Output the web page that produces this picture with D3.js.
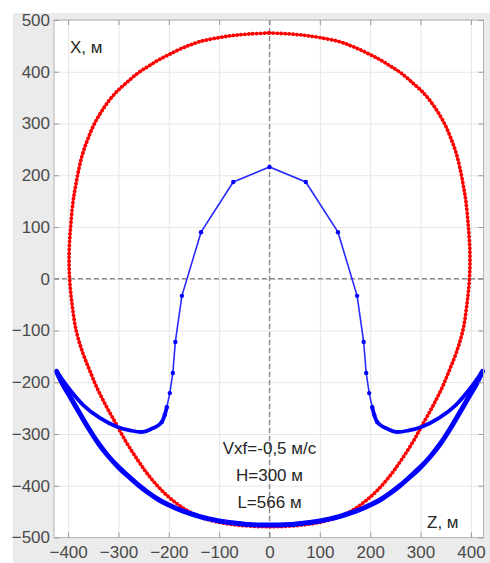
<!DOCTYPE html>
<html>
<head>
<meta charset="utf-8">
<script src="https://cdn.jsdelivr.net/npm/d3@7"></script>
<style>
  body { margin: 0; background: #fff; }
  svg { display: block; font-family: "Liberation Sans", Arial, sans-serif; }
</style>
</head>
<body>
<svg id="chart" width="490" height="563"></svg>
<script>
// tick values
const zTicks = [-400, -300, -200, -100, 0, 100, 200, 300, 400];
const xTicks = [-500, -400, -300, -200, -100, 0, 100, 200, 300, 400, 500];

// red curve, clockwise from top
const redZ = [0, 40, 73, 100, 139, 170, 198, 220, 240, 262, 285, 305, 322, 337, 350, 360, 370, 378, 385, 390, 395, 398, 397,
  392, 384, 372, 358, 343, 325, 305, 285, 262, 240, 215, 190, 160, 120, 80, 40, 0,
  -40, -80, -120, -160, -190, -215, -240, -262, -285, -305, -325, -343, -358, -372, -384, -392,
  -397, -398, -395, -390, -385, -378, -370, -360, -350, -337, -322, -305, -285, -262, -240, -220, -198, -170, -139, -100, -73, -40, 0];
const redX = [475, 473, 470, 466, 458, 447, 434, 423, 411, 397, 378, 360, 340, 318, 295, 272, 245, 215, 180, 150, 100, 50, 0,
  -50, -100, -140, -175, -210, -245, -280, -315, -350, -380, -408, -430, -450, -466, -474, -478, -479,
  -478, -474, -466, -450, -430, -408, -380, -350, -315, -280, -245, -210, -175, -140, -100, -50,
  0, 50, 100, 150, 180, 215, 245, 272, 295, 318, 340, 360, 378, 397, 411, 423, 434, 447, 458, 466, 470, 473, 475];

// blue arch (thin, with markers)
const archZ = [-214, -208, -204, -198, -192, -187, -174, -136, -72, 0, 72, 136, 174, 187, 192, 198, 204, 208, 214];
const archX = [-277, -263, -248, -221, -182, -122, -33, 90, 187, 216, 187, 90, -33, -122, -182, -221, -248, -263, -277];

// blue inner lobes (thick)
const lobeLZ = [-204, -208, -214, -222, -232, -251, -277, -303, -337, -370, -396, -423];
const lobeLX = [-248, -263, -277, -284, -289, -296, -293, -286, -269, -244, -215, -179];
const lobeRZ = [204, 208, 214, 222, 232, 251, 277, 303, 337, 370, 396, 423];
const lobeRX = [-248, -263, -277, -284, -289, -296, -293, -286, -269, -244, -215, -179];

// blue outer bottom (thick)
const bottomZ = [-423, -410, -396, -380, -360, -340, -320, -300, -280, -260, -240, -220, -200, -180, -160, -140, -120, -100, -80, -60, -40, -20, 0,
  20, 40, 60, 80, 100, 120, 140, 160, 180, 200, 220, 240, 260, 280, 300, 320, 340, 360, 380, 396, 410, 423];
const bottomX = [-179, -205, -228, -255, -288, -318, -343, -364, -382, -399, -414, -427, -437, -446, -453, -459, -464, -468, -471, -473, -475, -476, -476,
  -476, -475, -473, -471, -468, -464, -459, -453, -446, -437, -427, -414, -399, -382, -364, -343, -318, -288, -255, -228, -205, -179];

const notes = ['Vxf=-0,5 м/с', 'H=300 м', 'L=566 м'];

const svg = d3.select('#chart');
const pLeft = 54, pRight = 483.5, pTop = 20, pBottom = 537.5;

const x = d3.scaleLinear().domain([-428, 425]).range([pLeft, pRight]);
const y = d3.scaleLinear().domain([-500, 500]).range([pBottom, pTop]);

svg.append('rect').attr('x', 13).attr('y', 13).attr('width', 477).attr('height', 550).attr('fill', '#ebebeb');
svg.append('rect').attr('x', pLeft).attr('y', pTop).attr('width', pRight - pLeft).attr('height', pBottom - pTop).attr('fill', '#fff');

// grid
svg.append('g').attr('transform', `translate(0,${pBottom})`)
  .call(d3.axisBottom(x).tickValues(zTicks).tickSize(-(pBottom - pTop)).tickFormat(''))
  .call(g => g.select('.domain').remove())
  .call(g => g.selectAll('line').attr('stroke', '#e6e6e6'));
svg.append('g').attr('transform', `translate(${pLeft},0)`)
  .call(d3.axisLeft(y).tickValues(xTicks).tickSize(-(pRight - pLeft)).tickFormat(''))
  .call(g => g.select('.domain').remove())
  .call(g => g.selectAll('line').attr('stroke', '#e6e6e6'));

// zero lines
svg.append('line').attr('x1', x(0)).attr('x2', x(0)).attr('y1', pTop).attr('y2', pBottom)
  .attr('stroke', '#8c8c8c').attr('stroke-width', 1.3).attr('stroke-dasharray', '5,3');
svg.append('line').attr('x1', pLeft).attr('x2', pRight).attr('y1', y(0)).attr('y2', y(0))
  .attr('stroke', '#8c8c8c').attr('stroke-width', 1.3).attr('stroke-dasharray', '5,3');

const line = d3.line().x(d => x(d[0])).y(d => y(d[1])).curve(d3.curveCatmullRom.alpha(0.5));
const zip = (a, b) => a.map((v, i) => [v, b[i]]);

// red
const redPts = zip(redZ, redX);
svg.append('path').datum(redPts).attr('d', line).attr('fill', 'none')
  .attr('stroke', '#ff0000').attr('stroke-width', 1.5);
svg.append('path').datum(redPts).attr('d', line).attr('fill', 'none')
  .attr('stroke', '#ff0000').attr('stroke-width', 3.8).attr('stroke-linecap', 'round')
  .attr('stroke-dasharray', '0.1,3.8');

// blue arch
const archPts = zip(archZ, archX);
svg.append('path').datum(archPts).attr('d', d3.line().x(d => x(d[0])).y(d => y(d[1])))
  .attr('fill', 'none').attr('stroke', '#2a2aff').attr('stroke-width', 1.6);

// blue thick parts
[zip(lobeLZ, lobeLX), zip(lobeRZ, lobeRX)].forEach(p => {
  svg.append('path').datum(p).attr('d', line).attr('fill', 'none')
    .attr('stroke', '#0000ff').attr('stroke-width', 3.8).attr('stroke-linecap', 'round');
});
svg.append('path').datum(zip(bottomZ, bottomX)).attr('d', line).attr('fill', 'none')
  .attr('stroke', '#0000ff').attr('stroke-width', 5).attr('stroke-linecap', 'round');

svg.selectAll('circle.arch').data(archPts).enter().append('circle').attr('class', 'arch')
  .attr('cx', d => x(d[0])).attr('cy', d => y(d[1])).attr('r', 2.2).attr('fill', '#0000ff');

// box and ticks
svg.append('rect').attr('x', pLeft).attr('y', pTop).attr('width', pRight - pLeft).attr('height', pBottom - pTop)
  .attr('fill', 'none').attr('stroke', '#b4b4b4').attr('stroke-width', 1);

const styleAxis = g => {
  g.select('.domain').remove();
  g.selectAll('line').attr('stroke', '#9a9a9a');
  g.selectAll('text').attr('fill', '#4a4a4a').style('font-size', '17px').style('font-family', '"Liberation Sans", Arial, sans-serif');
};
svg.append('g').attr('transform', `translate(0,${pBottom})`)
  .call(d3.axisBottom(x).tickValues(zTicks).tickSize(-5).tickPadding(8)).call(styleAxis);
svg.append('g').attr('transform', `translate(${pLeft},0)`)
  .call(d3.axisLeft(y).tickValues(xTicks).tickSize(-5).tickPadding(4)).call(styleAxis);
svg.append('g').attr('transform', `translate(0,${pTop})`)
  .call(d3.axisTop(x).tickValues(zTicks).tickSize(-5).tickFormat('')).call(styleAxis);
svg.append('g').attr('transform', `translate(${pRight},0)`)
  .call(d3.axisRight(y).tickValues(xTicks).tickSize(-5).tickFormat('')).call(styleAxis);

// labels
svg.append('text').attr('x', 70).attr('y', 53).text('X, м')
  .attr('fill', '#262626').style('font-size', '17px');
svg.append('text').attr('x', 427).attr('y', 528).text('Z, м')
  .attr('fill', '#262626').style('font-size', '17px');

svg.selectAll('text.note').data(notes).enter().append('text').attr('class', 'note')
  .attr('x', x(0)).attr('y', (d, i) => 454 + i * 27)
  .attr('text-anchor', 'middle').attr('fill', '#262626').style('font-size', '17px')
  .text(d => d);
</script>
</body>
</html>
